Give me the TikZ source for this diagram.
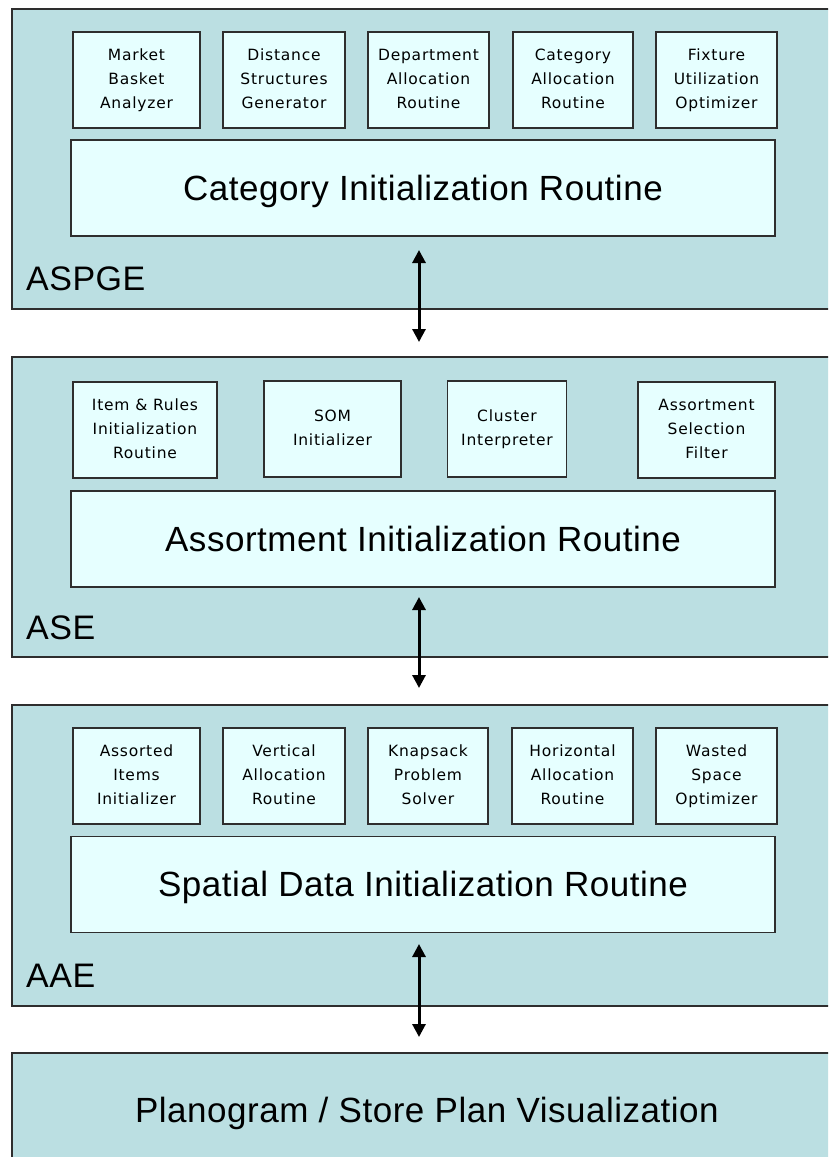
\documentclass[tikz,border=0pt]{standalone}
\usepackage{fontspec}
\setmainfont{Liberation Sans}
\newfontfamily\bigfont[LetterSpace=1.5]{Liberation Sans}
\newfontfamily\boxfont[LetterSpace=5]{DejaVu Sans}
\usetikzlibrary{arrows.meta}

\definecolor{panelfill}{HTML}{BBDFE2}
\definecolor{boxfill}{HTML}{E6FFFF}
\definecolor{edge}{HTML}{2E2E2E}

\tikzset{
  panel/.style={draw=edge, line width=1.8pt, fill=panelfill, anchor=north west,
    inner sep=0pt, minimum width=830pt, font=\bigfont\fontsize{35}{41}\selectfont,
    text height=24pt, text depth=0pt},
  stage/.style={draw=edge, line width=1.6pt, fill=boxfill, minimum width=704pt,
    minimum height=96pt, inner sep=0pt, font=\bigfont\fontsize{35}{41}\selectfont,
    text height=24pt, text depth=0pt},
  tool/.style={draw=edge, line width=1.6pt, fill=boxfill, minimum height=96pt,
    inner sep=0pt, align=center, font=\boxfont\fontsize{15.5}{24}\selectfont},
  tag/.style={anchor=base west, inner sep=0pt, font=\bigfont\fontsize{34}{40}\selectfont},
  link/.style={line width=3pt,
    {Triangle[width=13pt,length=13pt]}-{Triangle[width=13pt,length=13pt]}},
}

\newcommand{\tl}[1]{\strut#1\strut}

\begin{document}
\begin{tikzpicture}[x=1pt,y=-1pt]
\clip (0,0) rectangle (828,1157);
\fill[white] (0,0) rectangle (828,1157);

% ---- panels
\node[panel, minimum height=300pt] (p1) at (11,8) {};
\node[panel, minimum height=300pt] (p2) at (11,356) {};
\node[panel, minimum height=301pt] (p3) at (11,704) {};
\node[panel, minimum height=116pt] (p4) at (11,1052) {Planogram / Store Plan Visualization};

% ---- ASPGE
\node[tool, minimum width=127pt] (mba) at (136.5,80) {\tl{Market}\\Basket\\\tl{Analyzer}};
\node[tool, minimum width=122pt] (dsg) at (284,80) {\tl{Distance}\\Structures\\\tl{Generator}};
\node[tool, minimum width=121pt] (dar) at (428.5,80) {\tl{Department}\\Allocation\\\tl{Routine}};
\node[tool, minimum width=120pt] (car) at (573,80) {\tl{Category}\\Allocation\\\tl{Routine}};
\node[tool, minimum width=121pt] (fuo) at (716.5,80) {\tl{Fixture}\\Utilization\\\tl{Optimizer}};
\node[stage] (big1) at (423,188) {Category Initialization Routine};
\node[tag] (l1) at (26,290) {ASPGE};

% ---- ASE
\node[tool, minimum width=144pt] (irr) at (145,430) {\tl{Item \& Rules}\\Initialization\\\tl{Routine}};
\node[tool, minimum width=137pt] (som) at (332.5,429) {\tl{SOM}\\\tl{Initializer}};
\node[tool, minimum width=119pt] (cli) at (507,429) {\tl{Cluster}\\\tl{Interpreter}};
\node[tool, minimum width=137pt] (asf) at (706.5,430) {\tl{Assortment}\\Selection\\\tl{Filter}};
\node[stage] (big2) at (423,539) {Assortment Initialization Routine};
\node[tag] (l2) at (26,639) {ASE};

% ---- AAE
\node[tool, minimum width=127pt] (aii) at (136.5,776) {\tl{Assorted}\\Items\\\tl{Initializer}};
\node[tool, minimum width=122pt] (var) at (284,776) {\tl{Vertical}\\Allocation\\\tl{Routine}};
\node[tool, minimum width=120pt] (kps) at (428,776) {\tl{Knapsack}\\Problem\\\tl{Solver}};
\node[tool, minimum width=121pt] (har) at (572.5,776) {\tl{Horizontal}\\Allocation\\\tl{Routine}};
\node[tool, minimum width=121pt] (wso) at (716.5,776) {\tl{Wasted}\\Space\\\tl{Optimizer}};
\node[stage] (big3) at (423,884.5) {Spatial Data Initialization Routine};
\node[tag] (l3) at (26,987) {AAE};

% ---- links between the stages
\coordinate (a1s) at (419,250);  \coordinate (a1e) at (419,342);
\coordinate (a2s) at (419,597);  \coordinate (a2e) at (419,688);
\coordinate (a3s) at (419,944);  \coordinate (a3e) at (419,1037);
\draw[link] (a1s) -- (a1e);
\draw[link] (a2s) -- (a2e);
\draw[link] (a3s) -- (a3e);
\end{tikzpicture}
\end{document}
